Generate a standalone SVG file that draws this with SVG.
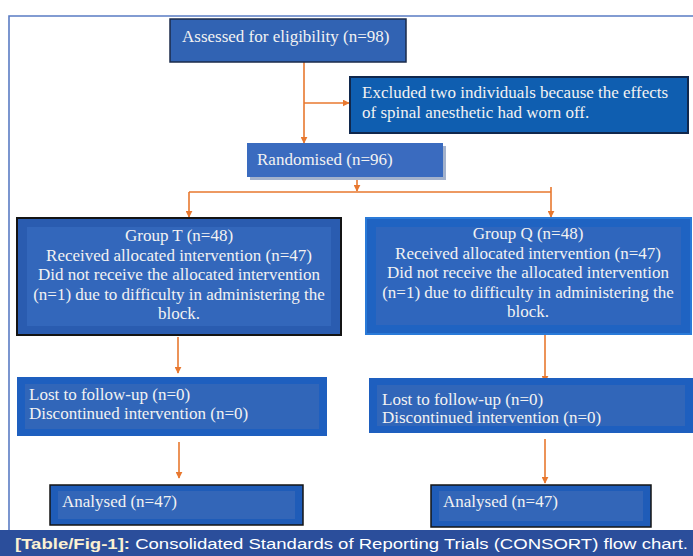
<svg xmlns="http://www.w3.org/2000/svg" width="693" height="556" viewBox="0 0 693 556">
<style>
.t{font-family:"Liberation Serif","Times New Roman",serif;font-size:17px;fill:#f2f2f2}
.c{text-anchor:middle}
.w{stroke:#e8782f;stroke-width:1.6;fill:none}
.cap{font-family:"Liberation Sans",Arial,sans-serif;font-size:15.5px;fill:#ffffff}
</style>
<defs>
<marker id="ah" viewBox="0 0 10 10" refX="9" refY="5" markerWidth="7" markerHeight="7" markerUnits="userSpaceOnUse" orient="auto">
<path d="M0,0 L10,5 L0,10 z" fill="#e8782f"/>
</marker>
</defs>
<rect width="693" height="556" fill="#ffffff"/>
<path d="M9,530 V16 H693" fill="none" stroke="#5a7cc4" stroke-width="1.6"/>

<g id="connectors">
<path class="w" d="M304,56 V143" marker-end="url(#ah)"/>
<path class="w" d="M304,103 H349" marker-end="url(#ah)"/>
<path class="w" d="M357,166 V191" marker-end="url(#ah)"/>
<path class="w" d="M189,192 H551 M551,187 V192"/>
<path class="w" d="M189,192 V217" marker-end="url(#ah)"/>
<path class="w" d="M551,192 V217" marker-end="url(#ah)"/>
<path class="w" d="M178,337 V373" marker-end="url(#ah)"/>
<path class="w" d="M545,329 V382" marker-end="url(#ah)"/>
<path class="w" d="M179,442 V478" marker-end="url(#ah)"/>
<path class="w" d="M545,439 V483" marker-end="url(#ah)"/>
</g>

<g id="assessed">
<rect x="170" y="19" width="236" height="43" fill="#3163b3" stroke="#1b2b4b" stroke-width="1.5"/>
<text class="t" x="182" y="42">Assessed for eligibility (n=98)</text>
</g>

<g id="excluded">
<rect x="350" y="77" width="338" height="56" fill="#0f5eb0" stroke="#10284d" stroke-width="2"/>
<text class="t" x="362" y="98">Excluded two individuals because the effects</text>
<text class="t" x="362" y="118">of spinal anesthetic had worn off.</text>
</g>

<g id="randomised">
<rect x="250" y="146" width="196" height="34" fill="#a3b2cc"/>
<rect x="247" y="143" width="196" height="34" fill="#3a6bbf"/>
<text class="t" x="257" y="165">Randomised (n=96)</text>
</g>

<g id="groupT">
<rect x="17" y="218" width="324" height="117" fill="#2a5cb0" stroke="#141414" stroke-width="2"/>
<rect x="27" y="227" width="304" height="99" fill="#3367bb"/>
<text class="t c" x="179" y="241">Group T (n=48)</text>
<text class="t c" x="179" y="260.5">Received allocated intervention (n=47)</text>
<text class="t c" x="179" y="280">Did not receive the allocated intervention</text>
<text class="t c" x="179" y="299.5">(n=1) due to difficulty in administering the</text>
<text class="t c" x="179" y="319">block.</text>
</g>

<g id="groupQ">
<rect x="366" y="218" width="325" height="116" fill="#1f63c2" stroke="#2a7ad8" stroke-width="2"/>
<rect x="376" y="227" width="305" height="98" fill="#2f66bd"/>
<text class="t c" x="528" y="239">Group Q (n=48)</text>
<text class="t c" x="528" y="258.5">Received allocated intervention (n=47)</text>
<text class="t c" x="528" y="278">Did not receive the allocated intervention</text>
<text class="t c" x="528" y="297.5">(n=1) due to difficulty in administering the</text>
<text class="t c" x="528" y="317">block.</text>
</g>

<g id="lostT">
<rect x="17" y="377" width="310" height="59" fill="#1e5fbf"/>
<rect x="25" y="384" width="294" height="45" fill="#3166b9"/>
<text class="t" x="29" y="400">Lost to follow-up (n=0)</text>
<text class="t" x="29" y="419">Discontinued intervention (n=0)</text>
</g>

<g id="lostQ">
<rect x="369" y="378" width="324" height="55" fill="#1e5fbf"/>
<rect x="377" y="385" width="308" height="41" fill="#3166b9"/>
<text class="t" x="382" y="405">Lost to follow-up (n=0)</text>
<text class="t" x="382" y="423">Discontinued intervention (n=0)</text>
</g>

<g id="analysedT">
<rect x="50" y="485" width="253" height="40" fill="#1f5cb8" stroke="#141414" stroke-width="1.5"/>
<rect x="58" y="491" width="237" height="28" fill="#3366b8"/>
<text class="t" x="62" y="507">Analysed (n=47)</text>
</g>

<g id="analysedQ">
<rect x="431" y="485" width="220" height="42" fill="#1f5cb8" stroke="#141414" stroke-width="1.5"/>
<rect x="439" y="491" width="204" height="30" fill="#3366b8"/>
<text class="t" x="443" y="507">Analysed (n=47)</text>
</g>

<g id="caption">
<rect x="0" y="530" width="693" height="26" fill="#2b4e9b"/>
<text class="cap" x="15" y="549" textLength="673" lengthAdjust="spacingAndGlyphs"><tspan font-weight="bold" fill="#fbf1d2">[Table/Fig-1]:</tspan> Consolidated Standards of Reporting Trials (CONSORT) flow chart.</text>
</g>
</svg>
